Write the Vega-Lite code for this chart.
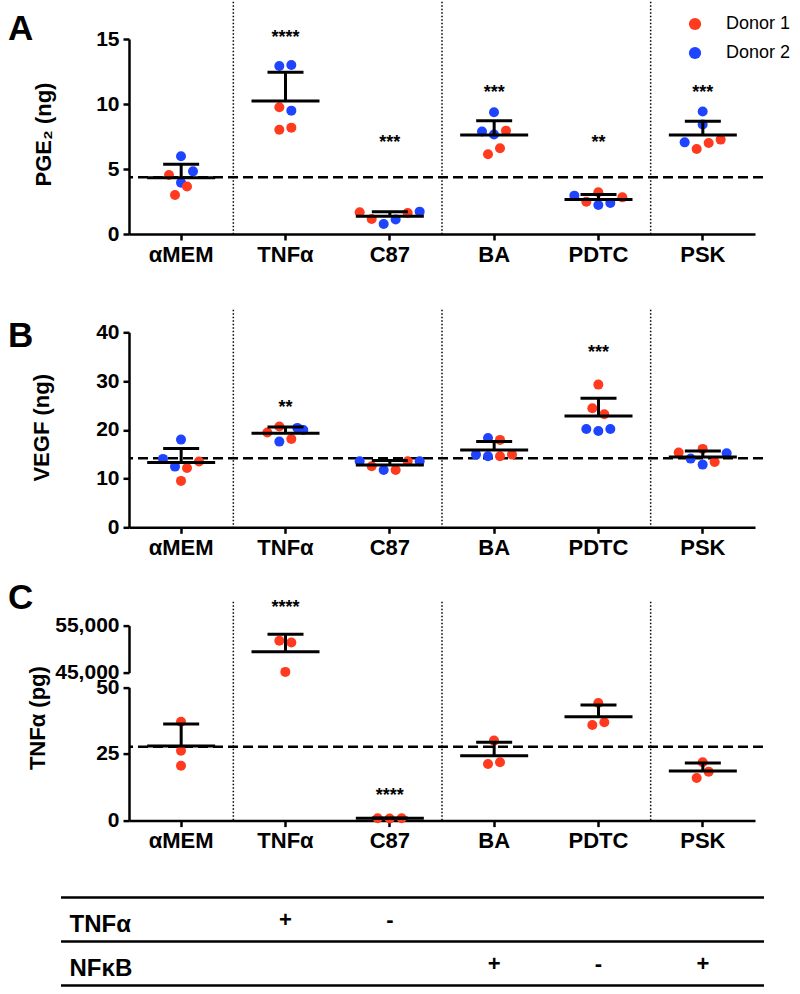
{
  "$schema": "https://vega.github.io/schema/vega-lite/v6.json",
  "background": "white",
  "padding": {"left": 8, "top": 0, "right": 0, "bottom": 0},
  "bounds": "flush",
  "spacing": 98.3,
  "resolve": {"scale": {"color": "independent"}},
  "config": {
    "font": "Liberation Sans",
    "view": {"stroke": null},
    "axis": {"domainColor": "black", "domainWidth": 2.5, "tickColor": "black", "tickWidth": 2.5, "tickSize": 6, "labelColor": "black", "labelFont": "Liberation Sans", "labelFontWeight": "bold", "titleFont": "Liberation Sans", "titleFontWeight": "bold", "titleColor": "black", "titleFontSize": 22, "grid": false},
    "axisX": {"labelFontSize": 22, "labelAngle": 0, "labelPadding": 4},
    "axisY": {"labelFontSize": 21, "labelPadding": 4, "titleAngle": -90, "titleAlign": "center", "titleBaseline": "alphabetic"},
    "tick": {"thickness": 3},
    "text": {"font": "Liberation Sans"}
  },
  "datasets": {
    "seps": [{"cat": "TNFα"}, {"cat": "BA"}, {"cat": "PSK"}],
    "ptsA": [
      {"cat": "αMEM", "donor": "Donor 2", "v": 5.98, "lane": 0},
      {"cat": "αMEM", "donor": "Donor 2", "v": 4.82, "lane": 2},
      {"cat": "αMEM", "donor": "Donor 1", "v": 4.54, "lane": -2},
      {"cat": "αMEM", "donor": "Donor 2", "v": 3.95, "lane": 0},
      {"cat": "αMEM", "donor": "Donor 1", "v": 3.65, "lane": 1},
      {"cat": "αMEM", "donor": "Donor 1", "v": 3.0, "lane": -1},
      {"cat": "TNFα", "donor": "Donor 2", "v": 12.92, "lane": -1},
      {"cat": "TNFα", "donor": "Donor 2", "v": 13.0, "lane": 1},
      {"cat": "TNFα", "donor": "Donor 1", "v": 9.75, "lane": -1},
      {"cat": "TNFα", "donor": "Donor 2", "v": 9.49, "lane": 1},
      {"cat": "TNFα", "donor": "Donor 1", "v": 8.02, "lane": -1},
      {"cat": "TNFα", "donor": "Donor 1", "v": 8.18, "lane": 1},
      {"cat": "C87", "donor": "Donor 1", "v": 1.67, "lane": -5},
      {"cat": "C87", "donor": "Donor 1", "v": 1.15, "lane": -3},
      {"cat": "C87", "donor": "Donor 2", "v": 0.77, "lane": -1},
      {"cat": "C87", "donor": "Donor 2", "v": 1.11, "lane": 1},
      {"cat": "C87", "donor": "Donor 1", "v": 1.62, "lane": 3},
      {"cat": "C87", "donor": "Donor 2", "v": 1.72, "lane": 5},
      {"cat": "BA", "donor": "Donor 2", "v": 9.36, "lane": 0},
      {"cat": "BA", "donor": "Donor 2", "v": 7.88, "lane": -2},
      {"cat": "BA", "donor": "Donor 2", "v": 7.65, "lane": 0},
      {"cat": "BA", "donor": "Donor 1", "v": 7.95, "lane": 2},
      {"cat": "BA", "donor": "Donor 1", "v": 6.59, "lane": 1},
      {"cat": "BA", "donor": "Donor 1", "v": 6.13, "lane": -1},
      {"cat": "PDTC", "donor": "Donor 2", "v": 2.95, "lane": -4},
      {"cat": "PDTC", "donor": "Donor 1", "v": 2.49, "lane": -2},
      {"cat": "PDTC", "donor": "Donor 1", "v": 3.21, "lane": 0},
      {"cat": "PDTC", "donor": "Donor 2", "v": 2.23, "lane": 0},
      {"cat": "PDTC", "donor": "Donor 2", "v": 2.38, "lane": 2},
      {"cat": "PDTC", "donor": "Donor 1", "v": 2.82, "lane": 4},
      {"cat": "PSK", "donor": "Donor 2", "v": 9.42, "lane": 0},
      {"cat": "PSK", "donor": "Donor 2", "v": 8.42, "lane": 0},
      {"cat": "PSK", "donor": "Donor 2", "v": 7.05, "lane": -3},
      {"cat": "PSK", "donor": "Donor 1", "v": 6.54, "lane": -1},
      {"cat": "PSK", "donor": "Donor 1", "v": 7.0, "lane": 1},
      {"cat": "PSK", "donor": "Donor 1", "v": 7.26, "lane": 3}
    ],
    "sumA": [
      {"cat": "αMEM", "v": 4.32, "up": 5.36},
      {"cat": "TNFα", "v": 10.23, "up": 12.45},
      {"cat": "C87", "v": 1.36, "up": 1.72},
      {"cat": "BA", "v": 7.62, "up": 8.72},
      {"cat": "PDTC", "v": 2.66, "up": 3.03},
      {"cat": "PSK", "v": 7.62, "up": 8.67}
    ],
    "starsA": [
      {"cat": "TNFα", "v": 15.36, "s": "****"},
      {"cat": "C87", "v": 7.31, "s": "***"},
      {"cat": "BA", "v": 11.15, "s": "***"},
      {"cat": "PDTC", "v": 7.31, "s": "**"},
      {"cat": "PSK", "v": 11.15, "s": "***"}
    ],
    "ptsB": [
      {"cat": "αMEM", "donor": "Donor 2", "v": 17.99, "lane": 0},
      {"cat": "αMEM", "donor": "Donor 2", "v": 14.03, "lane": -3},
      {"cat": "αMEM", "donor": "Donor 2", "v": 12.45, "lane": -1},
      {"cat": "αMEM", "donor": "Donor 1", "v": 12.18, "lane": 1},
      {"cat": "αMEM", "donor": "Donor 1", "v": 13.48, "lane": 3},
      {"cat": "αMEM", "donor": "Donor 1", "v": 9.52, "lane": 0},
      {"cat": "TNFα", "donor": "Donor 1", "v": 19.43, "lane": -3},
      {"cat": "TNFα", "donor": "Donor 1", "v": 20.66, "lane": -1},
      {"cat": "TNFα", "donor": "Donor 2", "v": 20.39, "lane": 2},
      {"cat": "TNFα", "donor": "Donor 2", "v": 19.97, "lane": 3},
      {"cat": "TNFα", "donor": "Donor 2", "v": 17.58, "lane": -1},
      {"cat": "TNFα", "donor": "Donor 1", "v": 18.13, "lane": 1},
      {"cat": "C87", "donor": "Donor 2", "v": 13.54, "lane": -5},
      {"cat": "C87", "donor": "Donor 1", "v": 12.51, "lane": -3},
      {"cat": "C87", "donor": "Donor 2", "v": 11.77, "lane": -1},
      {"cat": "C87", "donor": "Donor 1", "v": 11.77, "lane": 1},
      {"cat": "C87", "donor": "Donor 1", "v": 13.54, "lane": 3},
      {"cat": "C87", "donor": "Donor 2", "v": 13.54, "lane": 5},
      {"cat": "BA", "donor": "Donor 2", "v": 18.33, "lane": -1},
      {"cat": "BA", "donor": "Donor 1", "v": 17.93, "lane": 1},
      {"cat": "BA", "donor": "Donor 2", "v": 14.91, "lane": -3},
      {"cat": "BA", "donor": "Donor 2", "v": 14.56, "lane": -1},
      {"cat": "BA", "donor": "Donor 1", "v": 14.56, "lane": 1},
      {"cat": "BA", "donor": "Donor 1", "v": 14.91, "lane": 3},
      {"cat": "PDTC", "donor": "Donor 1", "v": 29.27, "lane": 0},
      {"cat": "PDTC", "donor": "Donor 1", "v": 24.41, "lane": -1},
      {"cat": "PDTC", "donor": "Donor 1", "v": 23.18, "lane": 1},
      {"cat": "PDTC", "donor": "Donor 2", "v": 20.18, "lane": -2},
      {"cat": "PDTC", "donor": "Donor 2", "v": 19.77, "lane": 0},
      {"cat": "PDTC", "donor": "Donor 2", "v": 20.18, "lane": 2},
      {"cat": "PSK", "donor": "Donor 1", "v": 15.32, "lane": -4},
      {"cat": "PSK", "donor": "Donor 1", "v": 16.08, "lane": 0},
      {"cat": "PSK", "donor": "Donor 2", "v": 15.18, "lane": 4},
      {"cat": "PSK", "donor": "Donor 2", "v": 14.09, "lane": -2},
      {"cat": "PSK", "donor": "Donor 2", "v": 12.86, "lane": 0},
      {"cat": "PSK", "donor": "Donor 1", "v": 13.41, "lane": 2}
    ],
    "sumB": [
      {"cat": "αMEM", "v": 13.27, "up": 16.14},
      {"cat": "TNFα", "v": 19.3, "up": 20.59},
      {"cat": "C87", "v": 12.8, "up": 13.7},
      {"cat": "BA", "v": 15.87, "up": 17.58},
      {"cat": "PDTC", "v": 22.85, "up": 26.46},
      {"cat": "PSK", "v": 14.44, "up": 15.67}
    ],
    "starsB": [
      {"cat": "TNFα", "v": 25.2, "s": "**"},
      {"cat": "PDTC", "v": 36.5, "s": "***"}
    ],
    "ptsCl": [
      {"cat": "αMEM", "donor": "Donor 1", "v": 37.1, "lane": 0},
      {"cat": "αMEM", "donor": "Donor 1", "v": 26.2, "lane": 0},
      {"cat": "αMEM", "donor": "Donor 1", "v": 20.6, "lane": 0},
      {"cat": "C87", "donor": "Donor 1", "v": 0.9, "lane": -2},
      {"cat": "C87", "donor": "Donor 1", "v": 0.8, "lane": 0},
      {"cat": "C87", "donor": "Donor 1", "v": 0.85, "lane": 2},
      {"cat": "BA", "donor": "Donor 1", "v": 30.0, "lane": 0},
      {"cat": "BA", "donor": "Donor 1", "v": 21.2, "lane": -1},
      {"cat": "BA", "donor": "Donor 1", "v": 21.9, "lane": 1},
      {"cat": "PDTC", "donor": "Donor 1", "v": 44.1, "lane": 0},
      {"cat": "PDTC", "donor": "Donor 1", "v": 35.85, "lane": -1},
      {"cat": "PDTC", "donor": "Donor 1", "v": 36.86, "lane": 1},
      {"cat": "PSK", "donor": "Donor 1", "v": 21.86, "lane": 0},
      {"cat": "PSK", "donor": "Donor 1", "v": 18.37, "lane": 1},
      {"cat": "PSK", "donor": "Donor 1", "v": 15.97, "lane": -1}
    ],
    "sumCl": [
      {"cat": "αMEM", "v": 27.98, "up": 36.2},
      {"cat": "C87", "v": 0.85, "up": 1.0},
      {"cat": "BA", "v": 24.37, "up": 29.4},
      {"cat": "PDTC", "v": 39.0, "up": 43.35},
      {"cat": "PSK", "v": 18.6, "up": 21.6}
    ],
    "starsCl": [{"cat": "C87", "v": 10.6, "s": "****"}],
    "ptsCu": [
      {"cat": "TNFα", "donor": "Donor 1", "v": 51790, "lane": -1},
      {"cat": "TNFα", "donor": "Donor 1", "v": 51420, "lane": 1},
      {"cat": "TNFα", "donor": "Donor 1", "v": 45150, "lane": 0}
    ],
    "sumCu": [{"cat": "TNFα", "v": 49433, "up": 53137}],
    "starsCu": [{"cat": "TNFα", "v": 59560, "s": "****"}],
    "tableSigns": [
      {"row": "TNFα", "cat": "TNFα", "sign": "+"},
      {"row": "TNFα", "cat": "C87", "sign": "-"},
      {"row": "NFκB", "cat": "BA", "sign": "+"},
      {"row": "NFκB", "cat": "PDTC", "sign": "-"},
      {"row": "NFκB", "cat": "PSK", "sign": "+"}
    ]
  },
  "vconcat": [
    {
      "width": 626,
      "height": 195,
      "title": {"text": "A", "anchor": "start", "frame": "group", "dx": -121, "dy": 74, "offset": 0, "fontSize": 35, "fontWeight": "bold", "font": "Liberation Sans", "color": "black", "baseline": "alphabetic"},
      "layer": [
        {
          "data": {"name": "seps"},
          "mark": {"type": "rule", "strokeDash": [1.5, 2], "strokeWidth": 1.5, "color": "black", "yOffset": -37.3, "y2Offset": 64.7},
          "encoding": {"x": {"field": "cat", "type": "nominal", "bandPosition": 0, "title": null, "scale": {"type": "band", "domain": ["αMEM", "TNFα", "C87", "BA", "PDTC", "PSK"], "paddingInner": 0, "paddingOuter": 0}}}
        },
        {
          "data": {"values": [{"v": 4.36}]},
          "mark": {"type": "rule", "strokeDash": [10, 5], "strokeWidth": 2.5, "color": "black", "xOffset": 8},
          "encoding": {"y": {"field": "v", "type": "quantitative", "title": "PGE₂ (ng)", "scale": {"domain": [0, 15], "nice": false}, "axis": {"values": [0, 5, 10, 15], "titleX": -79, "titleY": 95}}}
        },
        {
          "data": {"name": "ptsA"},
          "mark": {"type": "circle", "size": 100, "opacity": 1},
          "encoding": {
            "x": {"field": "cat", "type": "nominal", "title": null, "scale": {"type": "band", "domain": ["αMEM", "TNFα", "C87", "BA", "PDTC", "PSK"], "paddingInner": 0, "paddingOuter": 0}},
            "xOffset": {"field": "lane", "type": "quantitative", "scale": {"domain": [-5, 5], "range": [22, 82]}},
            "y": {"field": "v", "type": "quantitative", "title": "PGE₂ (ng)", "scale": {"domain": [0, 15], "nice": false}},
            "color": {"field": "donor", "type": "nominal", "scale": {"domain": ["Donor 1", "Donor 2"], "range": ["#FF3A1E", "#1F44FF"]}, "legend": {"orient": "none", "legendX": 557, "legendY": -24, "title": null, "symbolType": "circle", "symbolSize": 150, "symbolOpacity": 1, "symbolStrokeWidth": 0, "labelFontSize": 18, "labelFont": "Liberation Sans", "labelColor": "black", "labelOffset": 22, "rowPadding": 11, "padding": 0}}
          }
        },
        {
          "data": {"name": "sumA"},
          "encoding": {"x": {"field": "cat", "type": "nominal", "title": null, "scale": {"type": "band", "domain": ["αMEM", "TNFα", "C87", "BA", "PDTC", "PSK"], "paddingInner": 0, "paddingOuter": 0}}},
          "layer": [
            {"mark": {"type": "tick", "size": 68, "thickness": 3, "color": "black", "opacity": 1}, "encoding": {"y": {"field": "v", "type": "quantitative", "title": "PGE₂ (ng)", "scale": {"domain": [0, 15], "nice": false}}}},
            {"mark": {"type": "tick", "size": 36, "thickness": 3, "color": "black", "opacity": 1}, "encoding": {"y": {"field": "up", "type": "quantitative", "title": "PGE₂ (ng)", "scale": {"domain": [0, 15], "nice": false}}}},
            {"mark": {"type": "rule", "strokeWidth": 3, "color": "black"}, "encoding": {"y": {"field": "v", "type": "quantitative", "title": "PGE₂ (ng)", "scale": {"domain": [0, 15], "nice": false}}, "y2": {"field": "up"}}}
          ]
        },
        {
          "data": {"name": "starsA"},
          "mark": {"type": "text", "fontSize": 18, "fontWeight": "bold", "baseline": "middle", "align": "center", "dy": 4, "color": "black"},
          "encoding": {
            "x": {"field": "cat", "type": "nominal", "title": null, "scale": {"type": "band", "domain": ["αMEM", "TNFα", "C87", "BA", "PDTC", "PSK"], "paddingInner": 0, "paddingOuter": 0}},
            "y": {"field": "v", "type": "quantitative", "title": "PGE₂ (ng)", "scale": {"domain": [0, 15], "nice": false}},
            "text": {"field": "s"}
          }
        }
      ]
    },
    {
      "width": 626,
      "height": 195,
      "title": {"text": "B", "anchor": "start", "frame": "group", "dx": -121, "dy": 73, "offset": 0, "fontSize": 35, "fontWeight": "bold", "font": "Liberation Sans", "color": "black", "baseline": "alphabetic"},
      "layer": [
        {
          "data": {"name": "seps"},
          "mark": {"type": "rule", "strokeDash": [1.5, 2], "strokeWidth": 1.5, "color": "black", "yOffset": -22.6, "y2Offset": 47.4},
          "encoding": {"x": {"field": "cat", "type": "nominal", "bandPosition": 0, "title": null, "scale": {"type": "band", "domain": ["αMEM", "TNFα", "C87", "BA", "PDTC", "PSK"], "paddingInner": 0, "paddingOuter": 0}}}
        },
        {
          "data": {"values": [{"v": 14.15}]},
          "mark": {"type": "rule", "strokeDash": [10, 5], "strokeWidth": 2.5, "color": "black", "xOffset": 8},
          "encoding": {"y": {"field": "v", "type": "quantitative", "title": "VEGF (ng)", "scale": {"domain": [0, 40], "nice": false}, "axis": {"values": [0, 10, 20, 30, 40], "titleX": -81, "titleY": 95}}}
        },
        {
          "data": {"name": "ptsB"},
          "mark": {"type": "circle", "size": 100, "opacity": 1},
          "encoding": {
            "x": {"field": "cat", "type": "nominal", "title": null, "scale": {"type": "band", "domain": ["αMEM", "TNFα", "C87", "BA", "PDTC", "PSK"], "paddingInner": 0, "paddingOuter": 0}},
            "xOffset": {"field": "lane", "type": "quantitative", "scale": {"domain": [-5, 5], "range": [22, 82]}},
            "y": {"field": "v", "type": "quantitative", "title": "VEGF (ng)", "scale": {"domain": [0, 40], "nice": false}},
            "color": {"field": "donor", "type": "nominal", "scale": {"domain": ["Donor 1", "Donor 2"], "range": ["#FF3A1E", "#1F44FF"]}, "legend": null}
          }
        },
        {
          "data": {"name": "sumB"},
          "encoding": {"x": {"field": "cat", "type": "nominal", "title": null, "scale": {"type": "band", "domain": ["αMEM", "TNFα", "C87", "BA", "PDTC", "PSK"], "paddingInner": 0, "paddingOuter": 0}}},
          "layer": [
            {"mark": {"type": "tick", "size": 68, "thickness": 3, "color": "black", "opacity": 1}, "encoding": {"y": {"field": "v", "type": "quantitative", "title": "VEGF (ng)", "scale": {"domain": [0, 40], "nice": false}}}},
            {"mark": {"type": "tick", "size": 36, "thickness": 3, "color": "black", "opacity": 1}, "encoding": {"y": {"field": "up", "type": "quantitative", "title": "VEGF (ng)", "scale": {"domain": [0, 40], "nice": false}}}},
            {"mark": {"type": "rule", "strokeWidth": 3, "color": "black"}, "encoding": {"y": {"field": "v", "type": "quantitative", "title": "VEGF (ng)", "scale": {"domain": [0, 40], "nice": false}}, "y2": {"field": "up"}}}
          ]
        },
        {
          "data": {"name": "starsB"},
          "mark": {"type": "text", "fontSize": 18, "fontWeight": "bold", "baseline": "middle", "align": "center", "dy": 4, "color": "black"},
          "encoding": {
            "x": {"field": "cat", "type": "nominal", "title": null, "scale": {"type": "band", "domain": ["αMEM", "TNFα", "C87", "BA", "PDTC", "PSK"], "paddingInner": 0, "paddingOuter": 0}},
            "y": {"field": "v", "type": "quantitative", "title": "VEGF (ng)", "scale": {"domain": [0, 40], "nice": false}},
            "text": {"field": "s"}
          }
        }
      ]
    },
    {
      "width": 626,
      "height": 195,
      "title": {"text": "C", "anchor": "start", "frame": "group", "dx": -121, "dy": 44.4, "offset": 0, "fontSize": 35, "fontWeight": "bold", "font": "Liberation Sans", "color": "black", "baseline": "alphabetic"},
      "resolve": {"scale": {"y": "independent"}, "axis": {"y": "independent"}},
      "layer": [
        {
          "data": {"name": "seps"},
          "mark": {"type": "rule", "strokeDash": [1.5, 2], "strokeWidth": 1.5, "color": "black", "yOffset": -23.9, "y2Offset": 165.1},
          "encoding": {"x": {"field": "cat", "type": "nominal", "bandPosition": 0, "title": null, "scale": {"type": "band", "domain": ["αMEM", "TNFα", "C87", "BA", "PDTC", "PSK"], "paddingInner": 0, "paddingOuter": 0}}}
        },
        {
          "layer": [
            {
              "data": {"values": [{"v": 27.7}]},
              "mark": {"type": "rule", "strokeDash": [10, 5], "strokeWidth": 2.5, "color": "black", "xOffset": 8},
              "encoding": {"y": {"field": "v", "type": "quantitative", "title": "TNFα (pg)", "scale": {"domain": [0, 50], "range": [195, 61.7], "nice": false}, "axis": {"orient": "left", "values": [0, 25, 50], "titleX": -85, "titleY": 92}}}
            },
            {
              "data": {"name": "ptsCl"},
              "mark": {"type": "circle", "size": 100, "opacity": 1},
              "encoding": {
                "x": {"field": "cat", "type": "nominal", "title": null, "scale": {"type": "band", "domain": ["αMEM", "TNFα", "C87", "BA", "PDTC", "PSK"], "paddingInner": 0, "paddingOuter": 0}},
                "xOffset": {"field": "lane", "type": "quantitative", "scale": {"domain": [-5, 5], "range": [22, 82]}},
                "y": {"field": "v", "type": "quantitative", "title": "TNFα (pg)", "scale": {"domain": [0, 50], "range": [195, 61.7], "nice": false}},
                "color": {"field": "donor", "type": "nominal", "scale": {"domain": ["Donor 1", "Donor 2"], "range": ["#FF3A1E", "#1F44FF"]}, "legend": null}
              }
            },
            {
              "data": {"name": "sumCl"},
              "encoding": {"x": {"field": "cat", "type": "nominal", "title": null, "scale": {"type": "band", "domain": ["αMEM", "TNFα", "C87", "BA", "PDTC", "PSK"], "paddingInner": 0, "paddingOuter": 0}}},
              "layer": [
                {"mark": {"type": "tick", "size": 68, "thickness": 3, "color": "black", "opacity": 1}, "encoding": {"y": {"field": "v", "type": "quantitative", "title": "TNFα (pg)", "scale": {"domain": [0, 50], "range": [195, 61.7], "nice": false}}}},
                {"mark": {"type": "tick", "size": 36, "thickness": 3, "color": "black", "opacity": 1}, "encoding": {"y": {"field": "up", "type": "quantitative", "title": "TNFα (pg)", "scale": {"domain": [0, 50], "range": [195, 61.7], "nice": false}}}},
                {"mark": {"type": "rule", "strokeWidth": 3, "color": "black"}, "encoding": {"y": {"field": "v", "type": "quantitative", "title": "TNFα (pg)", "scale": {"domain": [0, 50], "range": [195, 61.7], "nice": false}}, "y2": {"field": "up"}}}
              ]
            },
            {
              "data": {"name": "starsCl"},
              "mark": {"type": "text", "fontSize": 18, "fontWeight": "bold", "baseline": "middle", "align": "center", "dy": 4, "color": "black"},
              "encoding": {
                "x": {"field": "cat", "type": "nominal", "title": null, "scale": {"type": "band", "domain": ["αMEM", "TNFα", "C87", "BA", "PDTC", "PSK"], "paddingInner": 0, "paddingOuter": 0}},
                "y": {"field": "v", "type": "quantitative", "title": "TNFα (pg)", "scale": {"domain": [0, 50], "range": [195, 61.7], "nice": false}},
                "text": {"field": "s"}
              }
            }
          ]
        },
        {
          "layer": [
            {
              "data": {"name": "ptsCu"},
              "mark": {"type": "circle", "size": 100, "opacity": 1},
              "encoding": {
                "x": {"field": "cat", "type": "nominal", "title": null, "scale": {"type": "band", "domain": ["αMEM", "TNFα", "C87", "BA", "PDTC", "PSK"], "paddingInner": 0, "paddingOuter": 0}},
                "xOffset": {"field": "lane", "type": "quantitative", "scale": {"domain": [-5, 5], "range": [22, 82]}},
                "y": {"field": "v", "type": "quantitative", "title": null, "scale": {"domain": [45000, 55000], "range": [47, 0], "nice": false, "zero": false}, "axis": {"orient": "left", "values": [45000, 55000], "format": ",", "labelExpr": "format(datum.value, ',')"}},
                "color": {"field": "donor", "type": "nominal", "scale": {"domain": ["Donor 1", "Donor 2"], "range": ["#FF3A1E", "#1F44FF"]}, "legend": null}
              }
            },
            {
              "data": {"name": "sumCu"},
              "encoding": {"x": {"field": "cat", "type": "nominal", "title": null, "scale": {"type": "band", "domain": ["αMEM", "TNFα", "C87", "BA", "PDTC", "PSK"], "paddingInner": 0, "paddingOuter": 0}}},
              "layer": [
                {"mark": {"type": "tick", "size": 68, "thickness": 3, "color": "black", "opacity": 1}, "encoding": {"y": {"field": "v", "type": "quantitative", "title": null, "scale": {"domain": [45000, 55000], "range": [47, 0], "nice": false, "zero": false}, "axis": {"orient": "left", "values": [45000, 55000], "format": ",", "labelExpr": "format(datum.value, ',')"}}}},
                {"mark": {"type": "tick", "size": 36, "thickness": 3, "color": "black", "opacity": 1}, "encoding": {"y": {"field": "up", "type": "quantitative", "title": null, "scale": {"domain": [45000, 55000], "range": [47, 0], "nice": false, "zero": false}, "axis": {"orient": "left", "values": [45000, 55000], "format": ",", "labelExpr": "format(datum.value, ',')"}}}},
                {"mark": {"type": "rule", "strokeWidth": 3, "color": "black"}, "encoding": {"y": {"field": "v", "type": "quantitative", "title": null, "scale": {"domain": [45000, 55000], "range": [47, 0], "nice": false, "zero": false}, "axis": {"orient": "left", "values": [45000, 55000], "format": ",", "labelExpr": "format(datum.value, ',')"}}, "y2": {"field": "up"}}}
              ]
            },
            {
              "data": {"name": "starsCu"},
              "mark": {"type": "text", "fontSize": 18, "fontWeight": "bold", "baseline": "middle", "align": "center", "dy": 4, "color": "black"},
              "encoding": {
                "x": {"field": "cat", "type": "nominal", "title": null, "scale": {"type": "band", "domain": ["αMEM", "TNFα", "C87", "BA", "PDTC", "PSK"], "paddingInner": 0, "paddingOuter": 0}},
                "y": {"field": "v", "type": "quantitative", "title": null, "scale": {"domain": [45000, 55000], "range": [47, 0], "nice": false, "zero": false}, "axis": {"orient": "left", "values": [45000, 55000], "format": ",", "labelExpr": "format(datum.value, ',')"}},
                "text": {"field": "s"}
              }
            }
          ]
        },
        {
          "layer": [
            {
              "data": {"values": [{"row": "TNFα"}, {"row": "NFκB"}]},
              "mark": {"type": "rule", "strokeWidth": 2.5, "color": "black", "xOffset": -68, "x2Offset": 9},
              "encoding": {
                "x": {"datum": "αMEM", "type": "nominal", "bandPosition": 0, "title": null, "scale": {"type": "band", "domain": ["αMEM", "TNFα", "C87", "BA", "PDTC", "PSK"], "paddingInner": 0, "paddingOuter": 0}},
                "x2": {"datum": "PSK", "bandPosition": 1},
                "y": {"field": "row", "type": "nominal", "bandPosition": 0, "title": null, "scale": {"type": "band", "domain": ["TNFα", "NFκB"], "range": [272, 360], "paddingInner": 0, "paddingOuter": 0}, "axis": {"orient": "left", "domain": false, "ticks": false, "tickSize": 0, "labelAlign": "left", "labelBaseline": "middle", "labelPadding": 60, "labelFontSize": 24, "labelOffset": 5}}
              }
            },
            {
              "data": {"values": [{"row": "NFκB"}]},
              "mark": {"type": "rule", "strokeWidth": 2.5, "color": "black", "xOffset": -68, "x2Offset": 9},
              "encoding": {
                "x": {"datum": "αMEM", "type": "nominal", "bandPosition": 0, "title": null, "scale": {"type": "band", "domain": ["αMEM", "TNFα", "C87", "BA", "PDTC", "PSK"], "paddingInner": 0, "paddingOuter": 0}},
                "x2": {"datum": "PSK", "bandPosition": 1},
                "y": {"field": "row", "type": "nominal", "bandPosition": 1, "title": null, "scale": {"type": "band", "domain": ["TNFα", "NFκB"], "range": [272, 360], "paddingInner": 0, "paddingOuter": 0}}
              }
            },
            {
              "data": {"name": "tableSigns"},
              "mark": {"type": "text", "fontSize": 22, "fontWeight": "bold", "baseline": "middle", "align": "center", "color": "black"},
              "encoding": {
                "x": {"field": "cat", "type": "nominal", "title": null, "scale": {"type": "band", "domain": ["αMEM", "TNFα", "C87", "BA", "PDTC", "PSK"], "paddingInner": 0, "paddingOuter": 0}},
                "y": {"field": "row", "type": "nominal", "title": null, "scale": {"type": "band", "domain": ["TNFα", "NFκB"], "range": [272, 360], "paddingInner": 0, "paddingOuter": 0}},
                "text": {"field": "sign"}
              }
            }
          ]
        }
      ]
    }
  ]
}
